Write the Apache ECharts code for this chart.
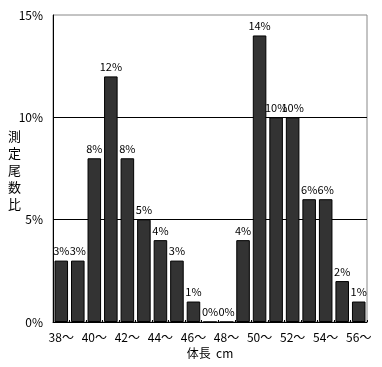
<!DOCTYPE html>
<html><head><meta charset="utf-8">
<script src="https://cdn.jsdelivr.net/npm/echarts@6/dist/echarts.min.js"></script>
<style>html,body{margin:0;padding:0;background:#fff}#c{width:382px;height:367px}</style>
</head><body><div id="c"></div>
<script>
const categories = ['38～','39～','40～','41～','42～','43～','44～','45～','46～','47～','48～','49～','50～','51～','52～','53～','54～','55～','56～'];
const values = [3,3,8,12,8,5,4,3,1,0,0,4,14,10,10,6,6,2,1];
const yTicks = [0,5,10,15];
const yName = '測\n定\n尾\n数\n比';
const xName = '体長  cm';
const font = '"Noto Sans CJK JP", "DejaVu Sans", sans-serif';
const chart = echarts.init(document.getElementById('c'));
chart.setOption({
  animation:false,
  grid:{left:53,right:15,top:15,bottom:45,show:true,borderColor:'#888',borderWidth:1,outerBoundsMode:'none',containLabel:false},
  graphic:[{type:'text',left:8,top:128,style:{text:yName,fill:'#000',font:'13px '+font,lineHeight:17}}],
  xAxis:{type:'category',data:categories,
    name:xName,nameLocation:'middle',nameGap:25,
    nameTextStyle:{color:'#000',fontSize:12,fontFamily:font},
    axisLine:{lineStyle:{color:'#000',width:1}},
    axisTick:{show:true,inside:true,length:2,interval:0,lineStyle:{color:'#000'}},
    axisLabel:{interval:1,color:'#000',fontSize:12,fontFamily:font,margin:9}},
  yAxis:{type:'value',min:yTicks[0],max:yTicks[yTicks.length-1],interval:5,
    axisLine:{show:true,lineStyle:{color:'#000'}},
    axisTick:{show:false},
    axisLabel:{formatter:'{value}%',color:'#000',fontSize:12,fontFamily:font,margin:10},
    splitLine:{show:true,showMaxLine:false,lineStyle:{color:'#000',width:1}}},
  series:[{type:'bar',data:values,barWidth:'82%',
    itemStyle:{color:'#333333',borderColor:'#000',borderWidth:1},
    label:{show:true,position:'top',formatter:'{c}%',color:'#000',fontSize:11,fontFamily:font,distance:4}}]
});
</script></body></html>
